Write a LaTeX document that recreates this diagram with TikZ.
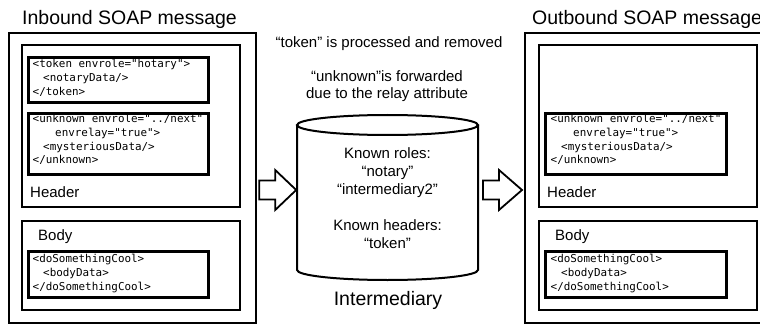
\documentclass[tikz,border=0pt]{standalone}
\usepackage{fontspec}
\setmainfont{Liberation Sans}
\newfontfamily\codefont{DejaVu Sans Mono}
\usetikzlibrary{calc}

\begin{document}
\begin{tikzpicture}[x=1pt,y=-1pt,
  frame/.style={draw, line width=2.2pt, rectangle, inner sep=0pt, anchor=north west},
  codebox/.style={draw, line width=2.8pt, rectangle, inner sep=0pt, anchor=north west},
  % multi-line nodes: the base anchor sits on the last line
  code/.style={font=\codefont\fontsize{10.9}{13.8}\selectfont, align=left, inner sep=0pt, anchor=base west},
  label/.style={font=\fontsize{15}{18}\selectfont, inner sep=0pt, anchor=base west},
  note/.style={font=\fontsize{15}{17}\selectfont, align=center, inner sep=0pt, anchor=base},
  title/.style={font=\fontsize{19.5}{22}\selectfont, inner sep=0pt},
  flow/.style={draw, line width=1.8pt, line join=miter, fill=white},
  cyl/.style={line width=2pt}]
\useasboundingbox (0,0) rectangle (760,326);
\clip (0,0) rectangle (760,326);

% ---------- incoming message ----------
\node[title, anchor=base west] (intitle) at (22,25) {Inbound SOAP message};
\node[frame, minimum width=247pt, minimum height=290pt] (inouter) at (8,32) {};
\node[frame, minimum width=218pt, minimum height=162pt] (inheader) at (21,44) {};
\node[codebox, minimum width=180pt, minimum height=45pt] (intoken) at (27,56) {};
\node[code] (intokentext) at (32.5,95.5)
  {<token envrole="hotary">\\\hspace*{10.5pt}<notaryData/>\\</token>};
\node[codebox, minimum width=180pt, minimum height=61pt] (inunknown) at (27,112) {};
\node[code] (inunknowntext) at (32.5,164)
  {<unknown envrole="../next"\\\hspace*{22.5pt}envrelay="true">\\\hspace*{10.5pt}<mysteriousData/>\\</unknown>};
\node[label] (inheaderlabel) at (30,197) {Header};
\node[frame, minimum width=218pt, minimum height=89pt] (inbody) at (21,220) {};
\node[label] (inbodylabel) at (38,240) {Body};
\node[codebox, minimum width=180pt, minimum height=46pt] (incool) at (27,250) {};
\node[code] (incooltext) at (32.5,290)
  {<doSomethingCool>\\\hspace*{10.5pt}<bodyData>\\</doSomethingCool>};

% ---------- intermediary node ----------
\node[note] (processed) at (389,48) {“token” is processed and removed};
\node[note] (forwarded) at (387,99) {“unknown”is forwarded\\due to the relay attribute};
\coordinate (cyltl) at (297,125);
\coordinate (cyltr) at (478,125);
\coordinate (cylbl) at (297,270);
\draw[cyl] (cyltl) -- (cylbl) arc[start angle=180, end angle=0, x radius=90.5, y radius=10] -- (cyltr);
\draw[cyl] ($(cyltl)!0.5!(cyltr)$) ellipse[x radius=90.5, y radius=10];
\node[note, font=\fontsize{15}{18}\selectfont] (roles) at (387.5,248)
  {Known roles:\\“notary”\\“intermediary2”\\[18pt]Known headers:\\“token”};
\node[title, anchor=base] (intermediary) at (388,305) {Intermediary};

% ---------- outgoing message ----------
\node[title, anchor=base west] (outtitle) at (532,25) {Outbound SOAP message};
\node[frame, minimum width=247pt, minimum height=290pt] (outouter) at (524,32) {};
\node[frame, minimum width=218pt, minimum height=162pt] (outheader) at (538,44) {};
\node[codebox, minimum width=181pt, minimum height=61pt] (outunknown) at (544,112) {};
\node[code] (outunknowntext) at (550.5,164)
  {<unknown envrole="../next"\\\hspace*{22.5pt}envrelay="true">\\\hspace*{10.5pt}<mysteriousData/>\\</unknown>};
\node[label] (outheaderlabel) at (547,197) {Header};
\node[frame, minimum width=218pt, minimum height=89pt] (outbody) at (538,220) {};
\node[label] (outbodylabel) at (555,240) {Body};
\node[codebox, minimum width=181pt, minimum height=46pt] (outcool) at (544,250) {};
\node[code] (outcooltext) at (550.5,290)
  {<doSomethingCool>\\\hspace*{10.5pt}<bodyData>\\</doSomethingCool>};

% ---------- flow arrows (hollow block arrows) ----------
\coordinate (arrowintail) at ($(inouter.east |- 0,190)+(2,0)$);
\coordinate (arrowouttail) at ($(cyltr |- 0,190)+(5,0)$);
\draw[flow] (arrowintail) ++(0,-9.5) -- ++(16,0) -- ++(0,-10.5) -- ++(21,20)
  -- ++(-21,20) -- ++(0,-10.5) -- ++(-16,0) -- cycle;
\draw[flow] (arrowouttail) ++(0,-9.5) -- ++(16,0) -- ++(0,-10.5) -- ++(23,20)
  -- ++(-23,20) -- ++(0,-10.5) -- ++(-16,0) -- cycle;
\end{tikzpicture}
\end{document}
